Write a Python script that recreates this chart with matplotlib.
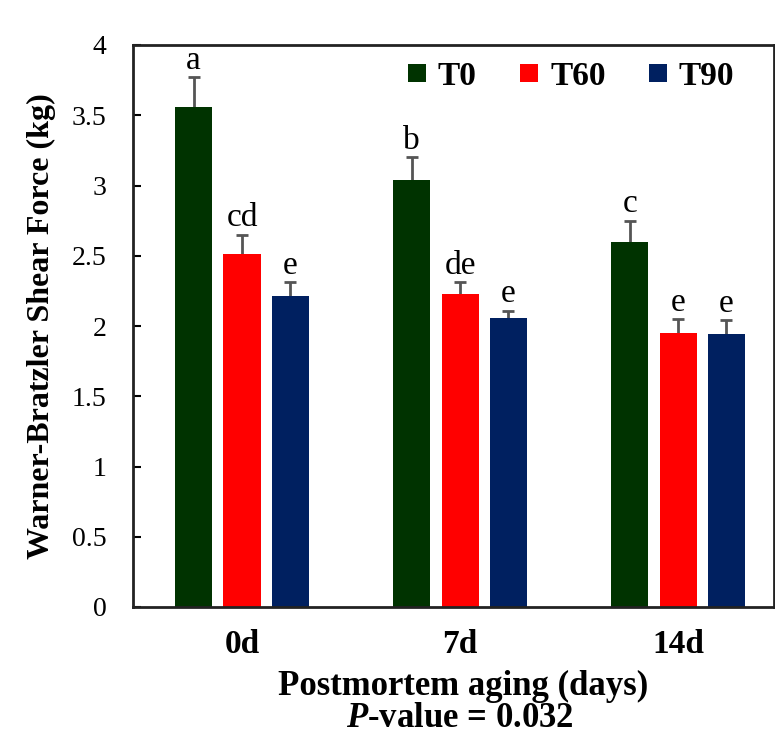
import matplotlib
matplotlib.use("Agg")
import matplotlib.pyplot as plt
import numpy as np

days = ["0d", "7d", "14d"]
series = ["T0", "T60", "T90"]
means = {
    "T0": [3.56, 3.04, 2.60],
    "T60": [2.51, 2.23, 1.95],
    "T90": [2.21, 2.06, 1.94],
}
errors = {
    "T0": [0.21, 0.16, 0.15],
    "T60": [0.14, 0.08, 0.10],
    "T90": [0.10, 0.05, 0.10],
}
letters = {
    "T0": ["a", "b", "c"],
    "T60": ["cd", "de", "e"],
    "T90": ["e", "e", "e"],
}
colors = {"T0": "#003300", "T60": "#ff0000", "T90": "#002060"}

plt.rcParams["font.family"] = ["Liberation Serif", "DejaVu Serif"]
plt.rcParams["mathtext.fontset"] = "custom"
plt.rcParams["mathtext.rm"] = "Liberation Serif:bold"
plt.rcParams["mathtext.it"] = "Liberation Serif:italic:bold"
plt.rcParams["mathtext.bf"] = "Liberation Serif:bold"

W, H = 775, 735
fig = plt.figure(figsize=(W / 100, H / 100), dpi=100)
ax = fig.add_axes([133 / W, 1 - 607 / H, (774 - 133) / W, (607 - 45) / H])

x = np.arange(len(days))
width = 0.17
offsets = [-0.222, 0.0, 0.222]
for s, off in zip(series, offsets):
    ax.errorbar(x + off, means[s], yerr=errors[s], fmt="none",
                ecolor="#555555", elinewidth=2, capsize=4, capthick=2, zorder=1)
    ax.bar(x + off, means[s], width, color=colors[s], label=s, zorder=2)
    for xi, m, e, t in zip(x + off, means[s], errors[s], letters[s]):
        ax.annotate(t, (xi, m + e), xytext=(0, 6), textcoords="offset points",
                    ha="center", va="baseline", fontsize=24)

ax.set_xlim(-0.5, 2.44)
ax.set_ylim(0, 4)
ax.set_yticks(np.arange(0, 4.01, 0.5))
ax.set_yticklabels(["0", "0.5", "1", "1.5", "2", "2.5", "3", "3.5", "4"])
ax.tick_params(axis="y", direction="in", length=6, width=1.5, labelsize=20, pad=19)
ax.set_xticks(x)
ax.set_xticklabels(days, fontsize=24, fontweight="bold")
ax.tick_params(axis="x", length=0, pad=16)
for sp in ax.spines.values():
    sp.set_linewidth(2)
    sp.set_color("#222222")

ax.set_ylabel("Warner-Bratzler Shear Force (kg)", fontsize=23, fontweight="bold")
ax.yaxis.set_label_coords((56 - 133) / (774 - 133), 0.5)

fig.text(463 / W, 1 - 695 / H, "Postmortem aging (days)", fontsize=25,
         fontweight="bold", ha="center", va="baseline")
fig.text(460 / W, 1 - 727 / H, "$\\mathit{P}$-value = 0.032", fontsize=25,
         fontweight="bold", ha="center", va="baseline")

leg = ax.legend(loc="upper right", ncol=3, frameon=False,
                prop={"weight": "bold", "size": 24}, handlelength=0.55, handleheight=0.42,
                handletextpad=0.35, columnspacing=1.3, bbox_to_anchor=(0.985, 1.025))

fig.savefig("out.png", dpi=100)
